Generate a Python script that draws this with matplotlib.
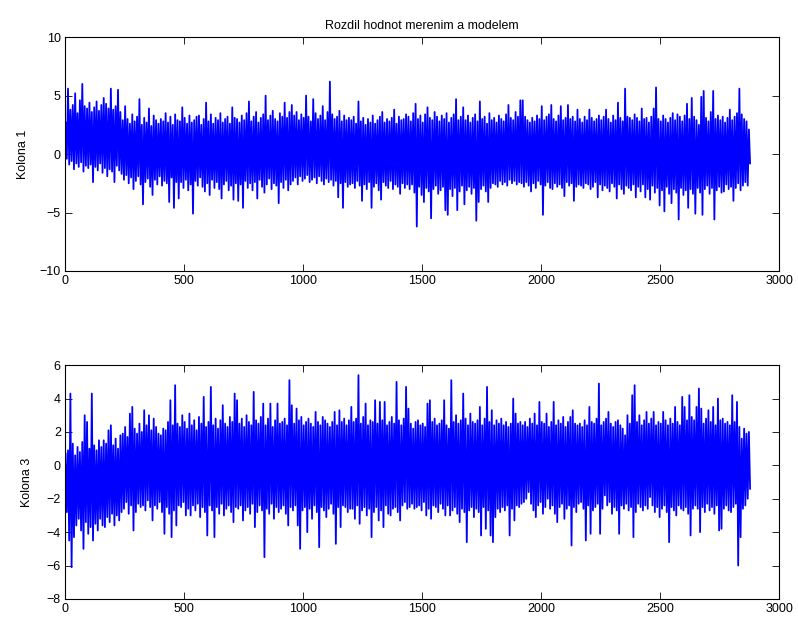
import numpy as np
import matplotlib
matplotlib.use("Agg")
import matplotlib.pyplot as plt

plt.rcParams['font.family'] = ['Liberation Sans', 'DejaVu Sans']

# sample spacing of the envelope bins (each bin = 10 samples)
BIN = 10

# Kolona 1: per-bin upper / lower envelope of the residual
kol1_hi = [
    2.7, 5.6, 3.8, 4.2, 5.2, 3.5, 4.6, 6.0, 4.1, 3.9, 4.4, 3.6, 4.0, 4.5, 3.7, 4.2, 4.8, 4.3, 3.9, 5.6, 3.8, 4.1, 5.5, 3.6,
    2.9, 4.1, 3.0, 2.6, 3.4, 2.8, 3.2, 4.7, 2.5, 3.1, 2.7, 3.9, 2.4, 3.3, 2.9, 2.6, 3.0, 2.8, 3.5, 2.7, 3.2, 2.5, 3.4, 2.9,
    2.8, 4.0, 3.1, 2.6, 3.3, 2.7, 2.9, 3.2, 3.3, 2.5, 3.0, 4.4, 2.8, 3.4, 2.6, 3.1, 2.9, 3.5, 2.7, 3.0, 3.2, 2.6, 4.0, 3.1,
    3.0, 2.7, 3.3, 2.9, 3.5, 4.5, 2.8, 3.2, 3.6, 2.7, 3.1, 3.4, 5.0, 2.9, 3.3, 3.7, 3.0, 2.8, 3.5, 3.2, 4.4, 3.1, 3.6, 4.2,
    3.3, 3.6, 2.9, 3.4, 3.1, 5.0, 3.2, 2.8, 4.7, 3.5, 3.0, 3.3, 4.1, 2.9, 3.6, 6.2, 3.4, 3.0, 3.2, 3.7, 2.8, 3.3, 2.9, 3.1,
    2.9, 3.2, 2.6, 4.5, 2.8, 3.1, 2.5, 3.0, 2.7, 3.3, 2.6, 2.9, 3.2, 3.6, 2.7, 3.0, 2.8, 3.1, 3.8, 2.6, 3.2, 2.9, 3.0, 3.4,
    3.2, 2.8, 3.5, 4.3, 3.0, 3.3, 2.7, 3.4, 4.0, 3.1, 2.9, 3.6, 3.2, 2.8, 3.3, 3.0, 3.5, 2.7, 3.1, 3.4, 4.7, 2.9, 3.2, 4.0,
    2.9, 3.3, 2.7, 3.1, 3.4, 2.8, 4.5, 3.0, 3.2, 2.6, 3.5, 2.9, 3.1, 2.7, 3.3, 3.0, 2.8, 3.4, 4.2, 3.1, 2.9, 3.6, 3.2, 4.6,
    4.6, 3.2, 2.9, 2.7, 3.1, 2.8, 3.3, 3.0, 4.1, 2.9, 3.2, 3.4, 4.2, 3.0, 2.8, 3.3, 4.1, 2.9, 3.1, 4.2, 3.0, 3.2, 2.8, 3.8,
    3.0, 2.7, 3.2, 2.9, 3.8, 3.1, 2.8, 3.0, 3.3, 2.9, 3.2, 3.8, 3.0, 2.7, 3.3, 2.9, 4.4, 3.1, 2.8, 5.6, 3.2, 3.1, 2.9, 3.4,
    3.1, 2.8, 3.9, 3.0, 3.1, 2.7, 3.2, 3.9, 5.7, 3.0, 2.8, 3.3, 3.0, 2.7, 3.1, 3.5, 2.9, 3.4, 3.2, 2.8, 3.3, 4.3, 3.0, 4.8,
    3.2, 2.9, 2.5, 4.9, 5.4, 3.1, 2.8, 3.6, 5.4, 3.0, 3.3, 2.9, 3.2, 2.7, 3.1, 3.8, 2.9, 3.2, 3.5, 5.6, 3.4, 3.0, 2.8, 2.1,
]
kol1_lo = [
    -0.4, -0.9, -0.6, -1.3, -0.8, -1.1, -0.7, -1.5, -1.0, -1.2, -0.9, -2.4, -1.1, -1.4, -0.8, -1.6, -1.2, -1.9, -1.3, -1.5, -2.4, -1.0, -1.4, -1.7,
    -2.2, -1.8, -2.5, -2.0, -3.0, -2.3, -1.9, -2.6, -4.3, -2.4, -2.1, -2.8, -3.5, -2.2, -2.6, -1.9, -2.7, -2.3, -2.5, -4.1, -2.0, -4.6, -2.4, -3.8,
    -2.4, -2.9, -2.2, -3.1, -2.6, -5.1, -2.3, -2.7, -2.0, -2.8, -3.2, -2.5, -3.5, -2.2, -2.9, -2.4, -3.0, -3.8, -2.6, -2.3, -3.1, -2.7, -3.9, -2.5,
    -4.0, -2.6, -4.6, -2.3, -2.9, -2.5, -3.1, -2.4, -3.8, -2.2, -2.8, -3.3, -2.6, -2.1, -3.0, -2.5, -2.7, -4.2, -2.4, -2.9, -2.2, -3.1, -2.6, -2.3,
    -2.0, -2.6, -1.9, -2.3, -2.1, -1.8, -2.4, -2.2, -2.0, -2.5, -1.9, -2.3, -2.6, -2.1, -2.4, -2.2, -2.7, -2.3, -3.7, -2.5, -4.6, -2.4, -2.8, -2.6,
    -2.5, -2.9, -2.3, -2.7, -4.0, -2.6, -3.0, -2.4, -4.6, -2.8, -2.5, -3.1, -3.9, -2.4, -2.7, -2.9, -2.3, -3.0, -2.6, -2.8, -3.4, -2.5, -2.9, -2.6,
    -3.0, -2.6, -3.3, -6.2, -2.8, -3.5, -4.1, -2.9, -3.2, -5.5, -3.0, -2.7, -3.4, -3.1, -2.8, -4.8, -5.2, -3.0, -3.6, -2.9, -4.8, -3.2, -2.7, -4.3,
    -3.1, -2.8, -3.4, -2.9, -5.7, -4.1, -3.0, -2.7, -3.2, -4.1, -2.9, -2.5, -2.6, -2.8, -2.3, -2.6, -2.4, -2.7, -2.2, -2.5, -2.3, -2.6, -2.4, -2.5,
    -2.8, -2.4, -2.7, -3.2, -2.5, -2.9, -2.3, -2.6, -5.2, -2.7, -2.4, -2.9, -3.0, -2.5, -2.8, -2.6, -2.9, -3.6, -2.4, -2.7, -2.5, -4.0, -2.8, -2.6,
    -2.7, -2.9, -2.5, -2.6, -3.0, -2.8, -2.4, -3.7, -2.6, -3.1, -2.7, -2.9, -3.2, -2.5, -2.8, -3.8, -2.6, -3.0, -3.4, -2.7, -2.9, -3.1, -2.6, -3.7,
    -2.8, -3.2, -2.6, -3.7, -3.0, -3.9, -2.7, -3.3, -2.9, -4.4, -3.1, -4.9, -2.8, -3.4, -4.2, -3.0, -3.3, -5.6, -2.9, -3.5, -3.1, -4.6, -3.0, -3.4,
    -5.1, -2.9, -3.3, -5.2, -3.0, -2.7, -3.4, -2.9, -5.6, -3.1, -2.8, -3.3, -3.2, -2.6, -3.0, -2.8, -4.0, -2.9, -2.5, -3.1, -2.7, -2.4, -2.7, -0.8,
]

# Kolona 3: per-bin upper / lower envelope of the residual
kol3_hi = [
    0.7, 0.9, 4.3, 1.3, 0.6, 1.1, 0.8, 1.4, 3.0, 2.6, 1.0, 4.3, 1.2, 0.9, 1.5, 1.1, 1.5, 1.3, 2.1, 2.4, 1.2, 1.6, 1.0, 1.8,
    1.9, 2.3, 1.7, 3.1, 3.5, 2.2, 1.9, 2.5, 2.0, 3.3, 2.4, 3.0, 2.1, 2.8, 2.3, 1.9, 1.8, 2.2, 2.1, 2.6, 3.9, 2.4, 4.8, 2.5,
    2.3, 3.0, 2.6, 2.2, 3.1, 2.4, 2.7, 2.1, 2.9, 2.5, 4.1, 2.3, 2.6, 4.7, 2.4, 2.8, 2.2, 2.7, 3.6, 2.5, 2.3, 2.9, 2.6, 4.3,
    3.9, 2.5, 2.8, 2.3, 3.0, 2.6, 2.4, 4.4, 2.7, 2.5, 2.9, 3.7, 2.4, 2.8, 3.7, 2.3, 2.7, 3.7, 2.5, 2.6, 2.8, 2.4, 5.1, 3.6,
    2.5, 3.4, 2.7, 2.9, 2.4, 2.6, 2.8, 2.5, 2.3, 3.2, 2.6, 2.4, 2.9, 2.7, 2.5, 2.3, 2.6, 3.2, 2.4, 3.3, 2.6, 2.8, 2.4, 2.7,
    3.5, 2.6, 2.8, 5.4, 2.5, 2.9, 3.7, 2.4, 2.7, 2.6, 3.9, 2.5, 3.8, 2.7, 3.8, 2.4, 2.6, 2.9, 2.5, 5.0, 2.7, 2.4, 2.8, 4.7,
    3.4, 2.5, 2.2, 2.6, 2.7, 2.4, 2.5, 2.3, 3.7, 3.9, 2.6, 2.8, 2.4, 2.5, 2.7, 3.9, 2.4, 2.2, 5.1, 2.6, 3.0, 2.5, 2.7, 4.3,
    2.8, 2.4, 3.1, 2.6, 2.5, 2.7, 3.5, 2.4, 2.8, 4.7, 2.6, 3.3, 2.4, 2.7, 2.5, 2.8, 2.4, 2.6, 2.3, 2.5, 4.0, 3.1, 2.5, 2.6,
    2.4, 2.6, 2.3, 2.8, 2.5, 3.1, 2.4, 3.8, 2.6, 2.5, 3.1, 2.3, 2.6, 3.8, 2.4, 2.7, 2.5, 2.9, 2.3, 2.6, 2.9, 3.3, 2.5, 2.4,
    2.5, 2.3, 2.7, 2.4, 3.5, 2.6, 2.5, 2.8, 4.9, 2.4, 2.6, 2.8, 3.2, 2.5, 2.3, 2.6, 2.7, 2.4, 2.2, 1.8, 3.0, 2.5, 4.2, 4.8,
    2.6, 3.0, 2.4, 2.7, 3.2, 2.5, 2.8, 3.2, 2.4, 2.6, 2.5, 3.2, 2.7, 2.4, 2.8, 2.5, 3.5, 2.6, 2.4, 4.1, 3.5, 2.7, 4.2, 2.9,
    2.7, 3.5, 4.6, 3.4, 2.5, 2.8, 3.3, 2.6, 3.5, 2.4, 4.0, 2.7, 2.8, 2.5, 2.6, 2.4, 4.2, 2.6, 3.8, 2.3, 1.6, 2.2, 1.9, 2.0,
]
kol3_lo = [
    -2.8, -4.5, -6.1, -4.3, -3.6, -3.2, -3.9, -5.0, -3.4, -4.1, -3.7, -4.5, -3.5, -3.9, -3.2, -3.6, -3.7, -3.1, -3.4, -2.9, -3.6, -3.0, -3.3, -2.8,
    -2.6, -2.2, -2.9, -2.4, -3.9, -2.8, -2.3, -2.5, -2.4, -2.7, -2.1, -2.5, -3.3, -2.4, -2.6, -2.2, -2.8, -4.1, -2.5, -2.9, -4.3, -2.7, -3.6, -2.4,
    -2.5, -2.2, -3.0, -2.6, -3.0, -2.4, -2.7, -2.3, -3.1, -2.5, -2.8, -4.2, -2.4, -2.7, -4.3, -2.5, -2.9, -2.3, -3.0, -2.6, -2.4, -2.8, -3.4, -2.5,
    -2.6, -2.4, -3.3, -2.7, -2.5, -2.9, -2.3, -3.7, -2.8, -2.4, -2.7, -5.5, -2.6, -2.9, -2.3, -3.2, -2.5, -2.8, -2.6, -2.4, -2.9, -3.6, -2.5, -2.7,
    -2.4, -3.6, -5.0, -2.7, -2.5, -4.0, -2.6, -3.2, -2.4, -2.8, -4.9, -2.5, -2.7, -3.1, -2.6, -2.3, -2.9, -4.7, -2.5, -3.7, -2.4, -2.5, -2.8, -2.6,
    -2.6, -3.2, -2.4, -3.5, -2.7, -2.5, -3.0, -2.6, -4.3, -2.8, -2.5, -3.3, -2.7, -3.7, -2.4, -2.9, -3.0, -2.6, -2.5, -2.8, -3.3, -2.4, -2.2, -2.6,
    -2.5, -2.3, -2.6, -2.5, -2.4, -2.7, -2.2, -3.0, -2.6, -3.2, -2.4, -2.5, -2.8, -2.3, -2.6, -3.0, -2.4, -3.0, -2.7, -2.5, -2.9, -3.4, -2.6, -2.8,
    -4.6, -2.7, -2.5, -3.1, -2.6, -2.8, -4.2, -2.5, -3.8, -2.7, -4.2, -4.6, -3.1, -2.6, -2.8, -2.5, -2.7, -2.4, -4.2, -2.6, -3.3, -2.4, -2.5, -2.3,
    -2.2, -2.0, -1.6, -2.3, -2.7, -3.1, -2.4, -2.2, -2.9, -2.5, -2.0, -2.6, -2.4, -2.9, -3.4, -2.5, -2.3, -3.2, -2.6, -2.4, -4.8, -2.5, -2.8, -2.3,
    -2.2, -2.6, -4.5, -2.4, -4.1, -2.7, -2.5, -2.3, -4.1, -2.6, -1.8, -2.4, -2.2, -2.9, -2.5, -2.7, -4.1, -2.4, -2.6, -2.3, -2.7, -2.5, -4.3, -2.8,
    -2.3, -2.5, -2.7, -2.4, -2.6, -1.9, -2.4, -2.8, -2.5, -3.1, -2.6, -2.4, -2.8, -4.6, -2.5, -2.7, -3.0, -2.4, -2.6, -2.7, -2.5, -2.9, -4.2, -2.6,
    -2.4, -2.6, -4.0, -2.5, -2.8, -2.3, -2.7, -2.5, -2.9, -2.4, -3.9, -3.8, -2.6, -2.4, -2.7, -2.8, -2.5, -2.3, -6.0, -4.3, -2.6, -2.4, -2.0, -1.4,
]

title_text = 'Rozdil hodnot merenim a modelem'
xticks = [0, 500, 1000, 1500, 2000, 2500, 3000]


def envelope_trace(hi, lo):
    """Interleave the upper and lower envelope into one line trace."""
    hi = np.asarray(hi)
    lo = np.asarray(lo)
    assert len(hi) == len(lo) == 288
    idx = np.arange(len(hi)) * BIN
    x = np.column_stack([idx + 2.5, idx + 7.5]).ravel()
    y = np.column_stack([hi, lo]).ravel()
    return x, y


def style_axes(ax):
    ax.tick_params(direction='in', top=True, right=True, length=5,
                   width=0.6, labelsize=9, pad=3)
    for sp in ax.spines.values():
        sp.set_linewidth(0.8)


fig = plt.figure(figsize=(7.98, 6.2), dpi=100)
ax1 = fig.add_axes([0.0815, 0.563, 0.895, 0.377])
ax2 = fig.add_axes([0.0815, 0.034, 0.895, 0.377])

x1, y1 = envelope_trace(kol1_hi, kol1_lo)
ax1.plot(x1, y1, color='#0000ff', linewidth=1.3)
ax1.set_xlim(0, 3000)
ax1.set_ylim(-10, 10)
ax1.set_xticks(xticks)
ax1.set_yticks([-10, -5, 0, 5, 10])
ax1.set_ylabel('Kolona 1', fontsize=9, labelpad=8)
ax1.set_title(title_text, fontsize=9, pad=6)
style_axes(ax1)

x3, y3 = envelope_trace(kol3_hi, kol3_lo)
ax2.plot(x3, y3, color='#0000ff', linewidth=1.3)
ax2.set_xlim(0, 3000)
ax2.set_ylim(-8, 6)
ax2.set_xticks(xticks)
ax2.set_yticks([-8, -6, -4, -2, 0, 2, 4, 6])
ax2.set_ylabel('Kolona 3', fontsize=9, labelpad=10)
style_axes(ax2)

fig.savefig('out.png', dpi=100)
